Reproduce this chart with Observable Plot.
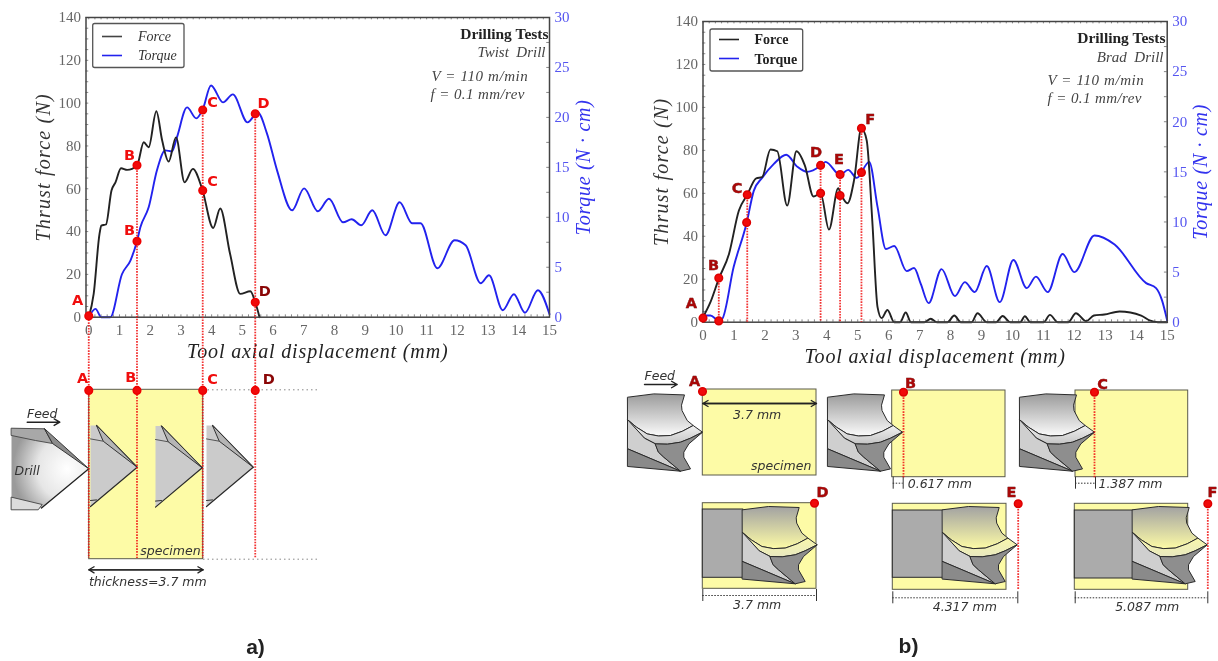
<!DOCTYPE html>
<html>
<head>
<meta charset="utf-8">
<script src="https://cdn.jsdelivr.net/npm/d3@7"></script>
<script src="https://cdn.jsdelivr.net/npm/@observablehq/plot@0.6"></script>
<style>
html,body{margin:0;padding:0;background:#fff;}
#page{position:relative;width:1218px;height:661px;overflow:hidden;background:#fff;filter:blur(0.55px);}
#page svg{position:absolute;left:0;top:0;overflow:visible;}
</style>
</head>
<body>
<div id="page"></div>
<script>
// ---------- Panel a: twist drill ----------
const forceAX = [0,0.16,0.35,0.41,0.56,0.74,0.87,1.05,1.25,1.57,1.79,1.95,2.2,2.39,2.6,2.84,3.12,3.39,3.69,4.05,4.28,4.6,4.93,5.26,5.42,5.56];
const forceAY = [0,10.9,38.9,42.8,43.3,59.2,63,69.6,68.8,70.8,81.7,79.4,96.2,82.5,72.7,84,63,69.3,60,41.7,50.8,29.6,10.9,12.1,7,0];
const torqueAX = [0,0.22,0.41,0.7,1.08,1.36,1.57,1.68,1.95,2.22,2.49,2.71,2.87,3.2,3.5,3.71,3.98,4.37,4.69,5.17,5.5,5.8,6.13,6.62,7.01,7.46,7.82,8.28,8.56,8.87,9.23,9.66,10.12,10.53,10.8,11.35,11.91,12.27,12.76,13.03,13.48,13.84,14.2,14.62,15];
const torqueAY = [0,0.83,0,0,4.3,5.7,7.6,9,11,14.7,16.7,16.6,18,21,19.9,20.8,23.2,21.5,22.3,19.5,20.5,18.4,14.7,10.7,12.9,10.6,11.85,9.5,9.8,9.2,10.7,8.2,11.5,9.4,9.4,4.9,7.7,7.2,3.4,4.2,0.7,2.3,0.45,2.7,0.3];
const markAX = [0,1.57,1.57,3.71,3.71,5.42,5.42, 0,1.57,3.71,5.42];
const markAY = [0.6,71,35.5,59.2,96.8,95,7, -34.2,-34.2,-34.2,-34.2];
const letterA = ["A","B","B","C","C","D","D","A","B","C","D"];
const letterAX = [-0.36,1.33,1.33,4.03,4.03,5.69,5.73,-0.2,1.37,4.03,5.86];
const letterAY = [7.8,75.5,40.5,63.4,100.3,99.8,12,-28.8,-28,-29.2,-29.2];
const letterAFill = ["#f00d0d","#f00d0d","#f00d0d","#f00d0d","#f00d0d","#f00d0d","#8a0606","#f00d0d","#f00d0d","#f00d0d","#8a0606"];
const dropAX = [0,1.57,3.71,5.42];
const dropATop = [0,71,96.8,95];
const dropABottom = -112.7;

// ---------- Panel b: brad drill ----------
const forceBX = [0,0.24,0.51,0.84,1.16,1.43,1.72,1.91,2.18,2.4,2.72,3.02,3.29,3.57,3.8,4.07,4.37,4.45,4.67,4.88,5.12,5.29,5.47,5.64,5.77,5.96,6.18,6.37,6.55,6.72,7.15,7.36,7.56,7.9,8.12,8.33,8.68,8.87,9.17,9.47,9.68,9.93,10.25,10.4,10.58,11.01,11.21,11.46,11.8,12.05,12.38,12.63,12.97,13.46,14.16,14.43,14.7,15];
const forceBY = [2.3,9.3,20.2,31.8,52,59.3,67,67.5,80.4,79.6,54.3,79.6,73,58.5,60,43.1,62.4,59.8,55.4,66,90.3,84.6,47.3,7,1.9,5.7,0,0,4.5,0,0,1.6,0,0,3.1,0,0,4.2,0,0,2.9,0,0,2.8,0,0,3.4,0,0,4.2,0.5,3.1,3.6,5,3.1,0.8,0,0];
const torqueBX = [0,0.24,0.51,0.62,0.99,1.41,1.64,1.91,2.29,2.69,3.05,3.37,3.8,3.96,4.43,4.69,4.97,5.37,5.64,5.91,6.18,6.58,6.82,7.04,7.29,7.71,8.14,8.46,8.78,9.17,9.59,10.03,10.46,10.76,11.14,11.62,12,12.65,13.3,14.32,14.64,14.83,15];
const torqueBY = [0.67,0.67,0.17,0.33,5.5,9.9,13.1,14.4,15.8,16.7,15.5,15,15.6,16,14.7,15.2,14.4,16,11.5,7.3,7.6,5.1,5.4,3.8,1.9,5.3,2.6,4,3,5.6,2,6.2,3.4,4.55,3,6.8,5,8.65,7.75,3.9,3.4,2.2,0.17];
const markBX = [0,0.51,0.51,1.43,1.41,3.8,3.8,4.43,4.43,5.12,5.12];
const markBY = [1.9,20.6,0.6,59.3,46.4,73,60,68.8,59,90.3,69.7];
const letterB = ["A","B","C","D","E","F"];
const letterBX = [-0.38,0.34,1.1,3.65,4.39,5.4];
const letterBY = [8.8,26.3,62.4,79.2,76,94.6];
const dropBX = [0.51,1.43,3.8,4.43,5.12];
const dropBTop = [20.6,59.3,73,68.8,90.3];

const xTicks = d3.range(0,16);
const xMinor = d3.range(0,15.01,0.2);
const yTicks = d3.range(0,141,20);
const yMinor = d3.range(0,140.01,5);
const torqueTicks = d3.range(0,31,5);
const torqueMinor = d3.range(0,30.01,2.5);
const toForce = t => t*140/30;

const serif = "'Liberation Serif', serif";
const sans = "'DejaVu Sans', sans-serif";
const ink = "#222", blue = "#2222ee", axisBlue = "#5555f0", tickInk = "#666";

function chart({left,right,top,bottom,x0,fx,fy,tx,ty,thrustDx,torqueDx,marks}){
  return Plot.plot({
    width:1218,height:661,
    marginLeft:left,marginRight:1218-right,marginTop:top,marginBottom:661-bottom,
    x:{domain:[x0,15]},y:{domain:[0,140]},
    style:{background:"transparent",fontFamily:serif},
    marks:[
      Plot.ruleX(xMinor,{x:d=>d,y1:0,y2:1.1,stroke:"#555",strokeWidth:0.7}),
      Plot.ruleX(xMinor,{x:d=>d,y1:140,y2:138.9,stroke:"#555",strokeWidth:0.7}),
      Plot.ruleY(yMinor,{y:d=>d,x1:x0,x2:x0+0.09,stroke:"#555",strokeWidth:0.7}),
      Plot.ruleY(torqueMinor,{y:d=>toForce(d),x1:15,x2:14.91,stroke:"#555",strokeWidth:0.7}),
      Plot.axisX({anchor:"bottom",ticks:xTicks,tickSize:0,tickPadding:7,fontSize:15,fill:tickInk,label:null}),
      Plot.axisY({anchor:"left",ticks:yTicks,tickSize:0,tickPadding:5,fontSize:15,fill:tickInk,label:null}),
      Plot.axisY({anchor:"right",ticks:torqueTicks.map(toForce),tickFormat:d=>Math.round(d*30/140),tickSize:0,tickPadding:5,fontSize:15,fill:axisBlue,label:null}),
      Plot.text(["Tool axial displacement (mm)"],{frameAnchor:"bottom",dy:41,text:d=>d,fontSize:20,fontStyle:"italic",fill:ink}),
      Plot.text(["Thrust force (N)"],{frameAnchor:"left",textAnchor:"middle",dx:thrustDx,rotate:-90,text:d=>d,fontSize:20,fontStyle:"italic",fill:"#333"}),
      Plot.text(["Torque (N · cm)"],{frameAnchor:"right",textAnchor:"middle",dx:torqueDx,rotate:-90,text:d=>d,fontSize:20,fontStyle:"italic",fill:"#3333ee"}),
      Plot.line(tx,{x:tx,y:ty.map(toForce),stroke:blue,strokeWidth:1.9,curve:"monotone-x"}),
      Plot.line(fx,{x:fx,y:fy,stroke:ink,strokeWidth:1.9,curve:"monotone-x"}),
      Plot.frame({stroke:"#444",strokeWidth:1.5}),
      ...marks
    ]
  });
}

const redDash = {stroke:"#f01010",strokeWidth:1.8,strokeDasharray:"1.6,1.2",strokeOpacity:0.85};
const bold = {fontFamily:sans,fontWeight:"bold",fontSize:14.5};

const chartA = chart({left:85.5,right:549,top:17,bottom:316.7,x0:-0.09,fx:forceAX,fy:forceAY,tx:torqueAX,ty:torqueAY,thrustDx:-42,torqueDx:34,marks:[
  Plot.ruleX(dropAX,{x:dropAX,y1:dropATop,y2:dropAX.map(()=>dropABottom),...redDash}),
  Plot.dot(markAX,{x:markAX,y:markAY,r:3.8,fill:"#f00a0a",stroke:"#e00"}),
  Plot.text(letterA,{x:letterAX,y:letterAY,text:letterA,fill:letterAFill,...bold})
]});
const chartB = chart({left:702.5,right:1166.7,top:21,bottom:321.7,x0:0,fx:forceBX,fy:forceBY,tx:torqueBX,ty:torqueBY,thrustDx:-41,torqueDx:33,marks:[
  Plot.ruleX(dropBX,{x:dropBX,y1:dropBTop,y2:dropBX.map(()=>0),...redDash}),
  Plot.dot(markBX,{x:markBX,y:markBY,r:3.8,fill:"#f00a0a",stroke:"#d00"}),
  Plot.text(letterB,{x:letterBX,y:letterBY,text:letterB,fill:"#a80808",stroke:"#500",strokeWidth:0.4,...bold})
]});

// ---------- Schematic sheet (page units) ----------
const sheetX = [0,1218], sheetY = [661,0];
const yellow = "#fdfba6";
// specimen blocks: [x1,y1,x2,y2]
const blocks = [[88.7,389.3,202.7,558.7],[702.3,389,816,475],[891.7,390,1005,476.7],[1075,390,1187.7,476.7],[702.3,502.7,816,588.3],[892.3,503.3,1006,589.3],[1074.3,503.3,1187.7,589.3]];
// shanks: [x1,y1,x2,y2]
const shanks = [[702.3,509,742.7,577.3],[892.3,510,944,577.3],[1074.3,510,1133.3,578]];
// brad-drill outline parts in px relative to the tip
const bradWhole = [[-74.7,-35],[-48.7,-38.3],[-18,-37.3],[-21,-27],[-20.5,-21.7],[-15.3,-11.7],[-9,-6.5],[0,0],[-13.7,11.7],[-18.7,20],[-18.7,25],[-12,36.7],[-22,39],[-74.7,34.3]];
const bradUpper = [[-74.7,-35],[-48.7,-38.3],[-18,-37.3],[-21,-27],[-20.5,-21.7],[-15.3,-11.7],[-9.3,-6.7],[-20,-1],[-32,3.3],[-44,3.8],[-55.3,1.7],[-66,-5],[-74.7,-12.3]];
const bradBlade = [[-74.7,-12.3],[-66,-5],[-55.3,1.7],[-44,3.8],[-32,3.3],[-20,-1],[-9.3,-6.7],[0,0],[-12,6],[-22,10],[-35,12],[-47,11.7],[-58,6]];
const bradMiddle = [[-74.7,-12.3],[-58,6],[-47,11.7],[-44,20],[-38.7,25],[-22,39],[-74.7,16.7]];
const bradFlank = [[-47,11.7],[-35,12],[-22,10],[-12,6],[0,0],[-13.7,11.7],[-18.7,20],[-18.7,25],[-12,36.7],[-22,39],[-38.7,25],[-44,20]];
const bradHeel = [[-74.7,16.7],[-22,39],[-74.7,34.3]];
const bradTips = [[702,431.7],[902,431.7],[1094,431.7]];
const bradTipsInside = [[816.7,544.3],[1016.7,544.3],[1206.7,544.3]];
// twist-drill parts, relative to the tip
const twistCut = [[-46.7,-41.7],[-40.7,-41.7],[0,0],[-46.7,39.3]];
const twistEdge = [[-40.7,-41.7],[-34,-26],[0,0]];
const twistLip = [[-46.7,-28.3],[-34,-26]];
const twistHeel = [[-46.7,33.3],[-40.7,32.7]];
const twistCutTips = [[136.7,466.7],[201.7,467.3],[252.7,466.7]];
const twistBody = [[11,427.7],[44,428.3],[52,443],[88.3,468.3],[41,507.5],[11,509]];
const twistTopBand = [[11,427.7],[44,428.3],[52,443],[35,440],[11,435]];
const twistBottomBand = [[11,496.7],[41.7,504],[37.7,509.3],[11,509.3]];
const twistShade = [[44,428.3],[52,443],[88.3,468.3]];
// notes: text, x, y
const titleNotes = [["Drilling Tests",548,33.5],["Drilling Tests",1165,38]];
const subtitleNotes = [["Twist  Drill",545,52],["Brad  Drill",1163,57]];
const conditionNotes = [["V = 110 m/min",431,75.5],["f = 0.1 mm/rev",430,93.5],["V = 110 m/min",1047,79.5],["f = 0.1 mm/rev",1047,98]];
const legendItalic = [["Force",137.5,36],["Torque",137.5,55]];
const legendBold = [["Force",754,39.5],["Torque",754,59]];
const sketchNotes = [["Feed",41.7,413],["Drill",26.7,470],["specimen",170,550],["thickness=3.7 mm",147.3,581],["Feed",659.3,375.7],["3.7 mm",756.7,414.3],["specimen",780.7,465],["0.617 mm",939.3,483.3],["1.387 mm",1130,483.3],["3.7 mm",756.7,604],["4.317 mm",964.3,606],["5.087 mm",1146.7,606]];
const panelNotes = [["a)",255,646.7],["b)",908,646]];
// legend samples: [x1,x2,y,colour]
const legendLines = [[102,122,36,"#444"],[102,122,55,"#2222ee"],[719,739,39,"#222"],[719,739,58,"#2222ee"]];
const legendBoxes = [[92.7,23.5,184,67.5],[710,29,802.7,71]];
// dimension lines: [x1,y,x2]
const arrows = [[26.7,421.7,59.3],[644,384,676.7]];
const doubleArrows = [[88.3,569.3,202.7],[702.3,403,816]];
const dimLines = [[892.7,482.7,902.7],[1075,482.7,1095],[702.3,595,816],[892.3,597.3,1017.3],[1074.7,597.3,1207.3]];
const greyGuides = [[203,389.3,317],[203,558.7,317]];
// schematic markers in panel b
const stationX = [702,903,1094,814,1017.7,1207.3];
const stationY = [391,391.7,391.7,502.7,503.3,503.3];
const stationEnd = [391,478,478,502.7,590,590];
const stationName = ["A","B","C","D","E","F"];
const stationNameX = [694,910,1102,822,1011,1212];
const stationNameY = [381,383,384,491.7,492,492];

const place = (shape,[tx,ty]) => shape.map(([x,y])=>[x+tx,y+ty]);
const poly = (pts,opts) => Plot.line(pts,{x:d=>d[0],y:d=>d[1],curve:"linear-closed",strokeLinejoin:"round",...opts});
const open = (pts,opts) => Plot.line(pts,{x:d=>d[0],y:d=>d[1],...opts});
const noteMark = (rows,opts) => Plot.text(rows,{x:d=>d[1],y:d=>d[2],text:d=>d[0],...opts});

const defs = () => {
  const g = d3.create("svg:defs");
  const lin = (id,stops) => {
    const l = g.append("linearGradient").attr("id",id).attr("x1",0).attr("x2",0).attr("y1",0).attr("y2",1);
    stops.forEach(([o,c])=>l.append("stop").attr("offset",o).attr("stop-color",c));
  };
  lin("drillUp",[[0,"#9b9b9b"],[1,"#fbfbfb"]]);
  lin("drillUpIn",[[0,"#a2a2a2"],[1,"#fdfba6"]]);
  lin("bladeUp",[[0,"#ffffff"],[1,"#c4c4c4"]]);
  lin("bladeIn",[[0,"#fdfba6"],[1,"#e8e8c0"]]);
  const r = g.append("radialGradient").attr("id","twistGlow").attr("cx",0.72).attr("cy",0.5).attr("r",0.7);
  [[0,"#ffffff"],[0.55,"#e6e6e6"],[1,"#9a9a9a"]].forEach(([o,c])=>r.append("stop").attr("offset",o).attr("stop-color",c));
  return g.node();
};

function bradDrill(tip,inside){
  const edge = {stroke:"#2b2b2b",strokeWidth:1};
  return [
    poly(place(bradWhole,tip),{fill:"#ffffff",stroke:"none"}),
    poly(place(bradUpper,tip),{fill:inside?"url(#drillUpIn)":"url(#drillUp)",...edge}),
    poly(place(bradBlade,tip),{fill:inside?"url(#bladeIn)":"url(#bladeUp)",...edge}),
    poly(place(bradMiddle,tip),{fill:"#cfcfcf",...edge}),
    poly(place(bradFlank,tip),{fill:"#8e8e8e",...edge}),
    poly(place(bradHeel,tip),{fill:"#8a8a8a",...edge})
  ];
}
function twistCutaway(tip){
  const edge = {stroke:"#333",strokeWidth:1};
  return [
    poly(place(twistCut,tip),{fill:"#cbcbcb",stroke:"none"}),
    open(place(twistCut.slice(1,4),tip),{stroke:"#2a2a2a",strokeWidth:1.2}),
    poly(place(twistEdge,tip),{fill:"#b5b5b5",...edge}),
    open(place(twistLip,tip),{stroke:"#555",strokeWidth:1}),
    open(place(twistHeel,tip),{stroke:"#333",strokeWidth:1})
  ];
}

const sheet = Plot.plot({
  width:1218,height:661,margin:0,
  x:{domain:sheetX,axis:null},y:{domain:sheetY,axis:null},
  style:{background:"transparent"},
  marks:[
    defs,
    Plot.rect(blocks,{x1:d=>d[0],y1:d=>d[1],x2:d=>d[2],y2:d=>d[3],fill:yellow,stroke:"#5a5a4a",strokeWidth:1}),
    Plot.rect(shanks,{x1:d=>d[0],y1:d=>d[1],x2:d=>d[2],y2:d=>d[3],fill:"#ababab",stroke:"#2a2a2a",strokeWidth:1}),
    ...[...bradTips.map(t=>bradDrill(t,false)),...bradTipsInside.map(t=>bradDrill(t,true))].flat(),
    // twist drill, panel a
    poly(twistBody,{fill:"url(#twistGlow)",stroke:"none"}),
    poly(twistTopBand,{fill:"#a8a8a8",stroke:"#444",strokeWidth:0.9}),
    poly(twistBottomBand,{fill:"#dcdcdc",stroke:"#444",strokeWidth:0.9}),
    poly(twistShade,{fill:"#8c8c8c",stroke:"#333",strokeWidth:1}),
    open([twistBody[3],twistBody[4]],{stroke:"#222",strokeWidth:1.3}),
    ...twistCutTips.flatMap(twistCutaway),
    // guides and dimension marks
    Plot.ruleY(greyGuides,{y:d=>d[1],x1:d=>d[0],x2:d=>d[2],stroke:"#888",strokeWidth:1,strokeDasharray:"1.5,3"}),
    Plot.arrow(arrows,{x1:d=>d[0],x2:d=>d[2],y1:d=>d[1],y2:d=>d[1],stroke:"#222",strokeWidth:1.4,headLength:7}),
    Plot.arrow(doubleArrows,{x1:d=>d[0],x2:d=>d[2],y1:d=>d[1],y2:d=>d[1],stroke:"#222",strokeWidth:1.3,headLength:7}),
    Plot.arrow(doubleArrows,{x1:d=>d[2],x2:d=>d[0],y1:d=>d[1],y2:d=>d[1],stroke:"#222",strokeWidth:1.3,headLength:7}),
    Plot.ruleY(dimLines,{y:d=>d[1],x1:d=>d[0],x2:d=>d[2],stroke:"#333",strokeWidth:1,strokeDasharray:"1.5,1.5"}),
    Plot.ruleX(dimLines,{x:d=>d[0],y1:d=>d[1]-6,y2:d=>d[1]+6,stroke:"#333",strokeWidth:1}),
    Plot.ruleX(dimLines,{x:d=>d[2],y1:d=>d[1]-6,y2:d=>d[1]+6,stroke:"#333",strokeWidth:1}),
    // stations of panel b
    Plot.ruleX(stationX,{x:stationX,y1:stationY,y2:stationEnd,...redDash}),
    Plot.dot(stationX,{x:stationX,y:stationY,r:3.8,fill:"#f00a0a",stroke:"#d00"}),
    Plot.text(stationName,{x:stationNameX,y:stationNameY,text:stationName,fill:"#a80808",stroke:"#500",strokeWidth:0.4,...bold}),
    // legends
    Plot.rect(legendBoxes,{x1:d=>d[0],y1:d=>d[1],x2:d=>d[2],y2:d=>d[3],fill:"#fff",stroke:"#555",strokeWidth:1.3,r:2}),
    Plot.ruleY(legendLines,{y:d=>d[2],x1:d=>d[0],x2:d=>d[1],stroke:d=>d[3],strokeWidth:1.6}),
    noteMark(titleNotes,{fontFamily:serif,fontSize:15.5,fontWeight:"bold",textAnchor:"end",fill:"#222"}),
    noteMark(subtitleNotes,{fontFamily:serif,fontSize:15,fontStyle:"italic",textAnchor:"end",fill:"#444"}),
    noteMark(conditionNotes,{fontFamily:serif,fontSize:15,fontStyle:"italic",textAnchor:"start",fill:"#444"}),
    noteMark(legendItalic,{fontFamily:serif,fontSize:14,fontStyle:"italic",textAnchor:"start",fill:"#333"}),
    noteMark(legendBold,{fontFamily:serif,fontSize:14,fontWeight:"bold",textAnchor:"start",fill:"#222"}),
    noteMark(sketchNotes,{fontFamily:sans,fontSize:12.5,fontStyle:"italic",textAnchor:"middle",fill:"#333"}),
    noteMark(panelNotes,{fontFamily:"'Liberation Sans', sans-serif",fontSize:21,fontWeight:"bold",textAnchor:"middle",fill:"#222"})
  ]
});

// The reference's math-style labels run wider than the installed serif.
const spacing = {"Tool axial displacement (mm)":"0.85px","Thrust force (N)":"1.2px","Torque (N · cm)":"0.7px","V = 110 m/min":"0.6px","f = 0.1 mm/rev":"0.4px"};
for (const svg of [chartA,chartB,sheet]) {
  d3.select(svg).selectAll("text").each(function(){
    const s = spacing[this.textContent];
    if (s) this.style.letterSpacing = s;
  });
}

document.getElementById("page").append(sheet,chartA,chartB);
</script>
</body>
</html>
